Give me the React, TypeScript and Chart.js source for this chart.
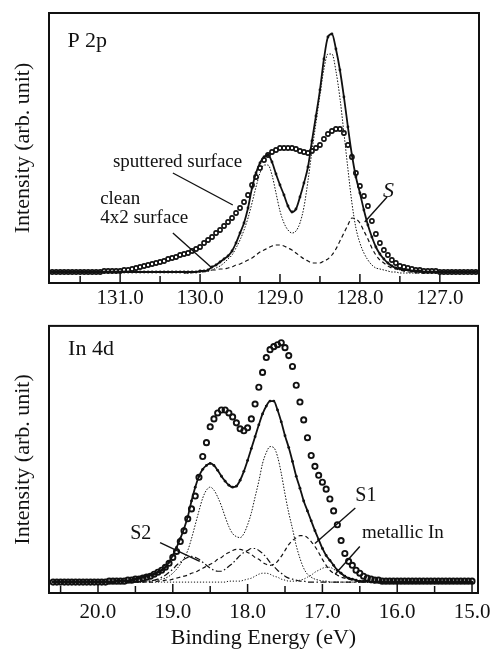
import React, { useEffect, useRef } from 'react';
import { Chart, registerables } from 'chart.js';

Chart.register(...registerables);

const SERIF = "'Liberation Serif', 'Times New Roman', Times, serif";
const INK = '#111111';

// ---------------- P 2p panel ----------------
const p2pEnergy = [
  131.85, 131.80, 131.75, 131.70, 131.65, 131.60, 131.55, 131.50, 131.45, 131.40,
  131.35, 131.30, 131.25, 131.20, 131.15, 131.10, 131.05, 131.00, 130.95, 130.90,
  130.85, 130.80, 130.75, 130.70, 130.65, 130.60, 130.55, 130.50, 130.45, 130.40,
  130.35, 130.30, 130.25, 130.20, 130.15, 130.10, 130.05, 130.00, 129.95, 129.90,
  129.85, 129.80, 129.75, 129.70, 129.65, 129.60, 129.55, 129.50, 129.45, 129.40,
  129.35, 129.30, 129.25, 129.20, 129.15, 129.10, 129.05, 129.00, 128.95, 128.90,
  128.85, 128.80, 128.75, 128.70, 128.65, 128.60, 128.55, 128.50, 128.45, 128.40,
  128.35, 128.30, 128.25, 128.20, 128.15, 128.10, 128.05, 128.00, 127.95, 127.90,
  127.85, 127.80, 127.75, 127.70, 127.65, 127.60, 127.55, 127.50, 127.45, 127.40,
  127.35, 127.30, 127.25, 127.20, 127.15, 127.10, 127.05, 127.00, 126.95, 126.90,
  126.85, 126.80, 126.75, 126.70, 126.65, 126.60, 126.55,
];
const p2pSputtered = [
  1, 1, 1, 1, 1, 1, 1, 1, 1, 1,
  1, 1, 1, 2, 2, 2, 2, 2, 3, 3,
  4, 5, 6, 7, 8, 9, 10, 11, 12, 14,
  15, 16, 18, 19, 20, 22, 24, 26, 30, 33,
  36, 40, 43, 47, 51, 55, 60, 65, 71, 78,
  88, 96, 105, 113, 118, 121, 123, 125, 125, 125,
  125, 124, 122, 121, 120, 122, 125, 128, 134, 139,
  142, 144, 144, 140, 128, 116, 100, 87, 77, 67,
  52, 39, 30, 23, 18, 13, 10, 7, 6, 5,
  4, 3, 3, 2, 2, 2, 2, 1, 1, 1,
  1, 1, 1, 1, 1, 1, 1,
];
const p2pClean = [
  1, 1, 1, 1, 1, 1, 1, 1, 1, 1,
  1, 1, 1, 1, 1, 1, 1, 1, 1, 1,
  1, 1, 1, 1, 1, 1, 1, 1, 1, 1,
  1, 1, 1, 1, 1, 1, 1, 2, 2, 3,
  6, 8, 11, 14, 17, 22, 30, 40, 50, 65,
  85, 100, 110, 116, 118, 111, 99, 88, 78, 67,
  61, 64, 76, 90, 106, 132, 157, 183, 214, 236,
  239, 224, 203, 176, 146, 118, 96, 80, 63, 48,
  36, 26, 19, 14, 10, 7, 5, 4, 3, 3,
  2, 2, 2, 1, 1, 1, 1, 1, 1, 1,
  1, 1, 1, 1, 1, 1, 1,
];
const p2pCompEnergy = [
  130.20, 130.15, 130.10, 130.05, 130.00, 129.95, 129.90, 129.85, 129.80, 129.75,
  129.70, 129.65, 129.60, 129.55, 129.50, 129.45, 129.40, 129.35, 129.30, 129.25,
  129.20, 129.15, 129.10, 129.05, 129.00, 128.95, 128.90, 128.85, 128.80, 128.75,
  128.70, 128.65, 128.60, 128.55, 128.50, 128.45, 128.40, 128.35, 128.30, 128.25,
  128.20, 128.15, 128.10, 128.05, 128.00, 127.95, 127.90, 127.85, 127.80, 127.75,
  127.70, 127.65, 127.60, 127.55, 127.50, 127.45, 127.40, 127.35, 127.30, 127.25,
  127.20,
];
const p2pBulk = [
  0, 0, 0, 1, 1, 1, 2, 3, 5, 7,
  10, 14, 18, 25, 33, 43, 55, 70, 86, 100,
  108, 108, 98, 80, 62, 50, 43, 40, 42, 50,
  66, 92, 122, 150, 178, 204, 219, 219, 202, 175,
  140, 104, 70, 45, 30, 20, 13, 8, 5, 4,
  3, 2, 1, 1, 0, 0, 0, 0, 0, 0,
  0,
];
const p2pSurfaceS = [
  0, 0, 1, 1, 1, 2, 2, 3, 3, 4,
  4, 5, 6, 8, 9, 11, 13, 15, 18, 21,
  23, 25, 27, 28, 28, 27, 25, 23, 20, 17,
  14, 12, 10, 10, 10, 12, 14, 18, 24, 32,
  40, 48, 55, 54, 50, 42, 34, 25, 18, 13,
  10, 7, 5, 4, 3, 2, 1, 1, 0, 0,
  0,
];
const p2pTicks = [131.5, 131.0, 130.5, 130.0, 129.5, 129.0, 128.5, 128.0, 127.5, 127.0];

// ---------------- In 4d panel ----------------
const in4dEnergy = [
  20.60, 20.55, 20.50, 20.45, 20.40, 20.35, 20.30, 20.25, 20.20, 20.15,
  20.10, 20.05, 20.00, 19.95, 19.90, 19.85, 19.80, 19.75, 19.70, 19.65,
  19.60, 19.55, 19.50, 19.45, 19.40, 19.35, 19.30, 19.25, 19.20, 19.15,
  19.10, 19.05, 19.00, 18.95, 18.90, 18.85, 18.80, 18.75, 18.70, 18.65,
  18.60, 18.55, 18.50, 18.45, 18.40, 18.35, 18.30, 18.25, 18.20, 18.15,
  18.10, 18.05, 18.00, 17.95, 17.90, 17.85, 17.80, 17.75, 17.70, 17.65,
  17.60, 17.55, 17.50, 17.45, 17.40, 17.35, 17.30, 17.25, 17.20, 17.15,
  17.10, 17.05, 17.00, 16.95, 16.90, 16.85, 16.80, 16.75, 16.70, 16.65,
  16.60, 16.55, 16.50, 16.45, 16.40, 16.35, 16.30, 16.25, 16.20, 16.15,
  16.10, 16.05, 16.00, 15.95, 15.90, 15.85, 15.80, 15.75, 15.70, 15.65,
  15.60, 15.55, 15.50, 15.45, 15.40, 15.35, 15.30, 15.25, 15.20, 15.15,
  15.10, 15.05, 15.00,
];
const in4dData = [
  0, 0, 0, 0, 0, 0, 0, 0, 0, 0,
  0, 0, 0, 0, 0, 1, 1, 1, 1, 1,
  2, 2, 3, 3, 4, 5, 6, 8, 10, 12,
  15, 19, 25, 31, 41, 52, 64, 74, 87, 106,
  127, 141, 157, 165, 171, 174, 174, 171, 167, 161,
  155, 153, 156, 165, 180, 197, 212, 227, 235, 238,
  240, 242, 237, 229, 218, 199, 182, 164, 146, 128,
  117, 108, 101, 94, 84, 72, 58, 42, 29, 21,
  17, 12, 9, 6, 4, 3, 2, 2, 1, 1,
  1, 1, 1, 1, 1, 1, 1, 1, 1, 1,
  1, 1, 1, 1, 1, 1, 1, 1, 1, 1,
  1, 1, 1,
];
const in4dFit = [
  0, 0, 0, 0, 0, 0, 0, 0, 0, 0,
  0, 0, 0, 0, 0, 0, 0, 1, 1, 1,
  1, 2, 3, 4, 5, 6, 7, 8, 10, 12,
  15, 20, 27, 35, 44, 54, 66, 82, 96, 107,
  114, 118, 120, 118, 113, 107, 102, 98, 96, 97,
  103, 112, 123, 135, 147, 159, 170, 178, 183, 183,
  174, 162, 148, 136, 122, 107, 95, 82, 72, 62,
  52, 43, 34, 27, 22, 17, 12, 9, 6, 4,
  3, 2, 1, 1, 1, 0, 0, 0, 0, 0,
  0, 0, 0, 0, 0, 0, 0, 0, 0, 0,
  0, 0, 0, 0, 0, 0, 0, 0, 0, 0,
  0, 0, 0,
];
const in4dCompEnergy = [
  19.60, 19.55, 19.50, 19.45, 19.40, 19.35, 19.30, 19.25, 19.20, 19.15,
  19.10, 19.05, 19.00, 18.95, 18.90, 18.85, 18.80, 18.75, 18.70, 18.65,
  18.60, 18.55, 18.50, 18.45, 18.40, 18.35, 18.30, 18.25, 18.20, 18.15,
  18.10, 18.05, 18.00, 17.95, 17.90, 17.85, 17.80, 17.75, 17.70, 17.65,
  17.60, 17.55, 17.50, 17.45, 17.40, 17.35, 17.30, 17.25, 17.20, 17.15,
  17.10, 17.05, 17.00, 16.95, 16.90, 16.85, 16.80, 16.75, 16.70, 16.65,
  16.60, 16.55, 16.50, 16.45, 16.40, 16.35, 16.30, 16.25, 16.20,
];
const in4dBulk = [
  0, 0, 0, 0, 1, 1, 1, 2, 2, 3,
  4, 6, 9, 13, 18, 24, 32, 44, 58, 72,
  85, 93, 96, 93, 86, 77, 66, 56, 49, 46,
  45, 49, 58, 70, 86, 102, 120, 131, 137, 136,
  127, 110, 89, 70, 54, 37, 24, 14, 8, 5,
  3, 2, 1, 1, 0, 0, 0, 0, 0, 0,
  0, 0, 0, 0, 0, 0, 0, 0, 0,
];
const in4dS1 = [
  0, 0, 0, 0, 0, 0, 0, 0, 1, 1,
  2, 2, 3, 4, 5, 6, 7, 9, 10, 12,
  14, 16, 18, 20, 23, 25, 28, 30, 32, 33,
  33, 32, 30, 28, 25, 23, 20, 18, 17, 18,
  21, 26, 32, 38, 42, 45, 47, 47, 45, 41,
  36, 30, 23, 17, 12, 9, 7, 5, 4, 3,
  2, 1, 1, 0, 0, 0, 0, 0, 0,
];
const in4dS2 = [
  0, 0, 0, 1, 1, 1, 1, 2, 3, 5,
  7, 10, 13, 17, 20, 23, 25, 26, 25, 23,
  20, 17, 14, 12, 11, 11, 13, 16, 19, 23,
  27, 30, 32, 34, 34, 32, 29, 25, 20, 16,
  12, 9, 6, 4, 3, 2, 1, 1, 0, 0,
  0, 0, 0, 0, 0, 0, 0, 0, 0, 0,
  0, 0, 0, 0, 0, 0, 0, 0, 0,
];
const in4dMetallic = [
  0, 0, 0, 0, 0, 0, 0, 0, 0, 0,
  0, 0, 0, 0, 0, 0, 0, 0, 0, 0,
  0, 0, 0, 0, 0, 0, 0, 1, 1, 1,
  1, 2, 3, 4, 6, 8, 9, 9, 8, 6,
  5, 3, 2, 1, 1, 1, 2, 3, 5, 7,
  10, 12, 14, 15, 15, 13, 11, 8, 6, 4,
  3, 2, 1, 1, 0, 0, 0, 0, 0,
];
const in4dTicks = [20.5, 20.0, 19.5, 19.0, 18.5, 18.0, 17.5, 17.0, 16.5, 16.0, 15.5, 15.0];

// ---------------- annotations (data coordinates) ----------------
type Note = { text: string; x: number; y: number; size: number; italic?: boolean };
type Pointer = { x1: number; y1: number; x2: number; y2: number };

const p2pNotes: Note[] = [
  { text: 'P 2p', x: 131.66, y: 232, size: 22 },
  { text: 'sputtered surface', x: 131.09, y: 111, size: 19 },
  { text: 'clean', x: 131.25, y: 74, size: 19 },
  { text: '4x2 surface', x: 131.25, y: 55, size: 19 },
  { text: 'S', x: 127.71, y: 82, size: 22, italic: true },
];
const p2pPointers: Pointer[] = [
  { x1: 130.34, y1: 100, x2: 129.59, y2: 68 },
  { x1: 130.34, y1: 40, x2: 129.85, y2: 5 },
  { x1: 127.66, y1: 76, x2: 127.94, y2: 51 },
];
const in4dNotes: Note[] = [
  { text: 'In 4d', x: 20.4, y: 235, size: 22 },
  { text: 'S2', x: 19.57, y: 49, size: 20 },
  { text: 'S1', x: 16.56, y: 87, size: 20 },
  { text: 'metallic In', x: 16.47, y: 50, size: 19 },
];
const in4dPointers: Pointer[] = [
  { x1: 19.17, y1: 40, x2: 18.64, y2: 21 },
  { x1: 16.56, y1: 75, x2: 17.1, y2: 39 },
  { x1: 16.5, y1: 36, x2: 16.83, y2: 8 },
];

const pts = (xs: number[], ys: number[]) => xs.map((x, i) => ({ x, y: ys[i] }));

const framePlugin = {
  id: 'frame',
  afterDraw(chart: any, _args: any, opts: any) {
    const { ctx, chartArea: a, scales } = chart;
    const xs = scales.x;
    const ys = scales.y;
    ctx.save();
    ctx.strokeStyle = INK;
    ctx.lineWidth = 2;
    ctx.strokeRect(a.left, a.top, a.right - a.left, a.bottom - a.top);
    ctx.lineWidth = 1.5;
    xs.ticks.forEach((t: any) => {
      const px = xs.getPixelForValue(t.value);
      const major = Math.abs(t.value - Math.round(t.value)) < 1e-6;
      const len = major ? 9 : 7;
      ctx.beginPath();
      ctx.moveTo(px, a.bottom);
      ctx.lineTo(px, a.bottom - len);
      ctx.stroke();
    });
    ctx.lineWidth = 1.4;
    (opts.pointers || []).forEach((p: Pointer) => {
      ctx.beginPath();
      ctx.moveTo(xs.getPixelForValue(p.x1), ys.getPixelForValue(p.y1));
      ctx.lineTo(xs.getPixelForValue(p.x2), ys.getPixelForValue(p.y2));
      ctx.stroke();
    });
    ctx.fillStyle = INK;
    ctx.textAlign = 'left';
    ctx.textBaseline = 'middle';
    (opts.notes || []).forEach((n: Note) => {
      ctx.font = `${n.italic ? 'italic ' : ''}${n.size}px ${SERIF}`;
      ctx.fillText(n.text, xs.getPixelForValue(n.x), ys.getPixelForValue(n.y));
    });
    ctx.restore();
  },
};

const circles = (data: any[], r: number, bw: number) => ({
  data,
  showLine: false,
  pointStyle: 'circle',
  pointRadius: r,
  pointBorderWidth: bw,
  pointBorderColor: INK,
  pointBackgroundColor: 'rgba(0,0,0,0)',
  borderColor: INK,
});
const dottedSolid = (data: any[]) => ({
  data,
  showLine: true,
  borderColor: INK,
  borderWidth: 1.8,
  pointRadius: 1.4,
  pointBorderWidth: 0,
  pointBackgroundColor: INK,
  cubicInterpolationMode: 'monotone',
});
const styledLine = (data: any[], dash: number[], width: number) => ({
  data,
  showLine: true,
  borderColor: INK,
  borderWidth: width,
  borderDash: dash,
  pointRadius: 0,
  cubicInterpolationMode: 'monotone',
});

type PanelSpec = {
  datasets: any[];
  xmin: number;
  xmax: number;
  ymin: number;
  ymax: number;
  ticks: number[];
  padTop: number;
  padRight: number;
  xHeight: number;
  tickPad: number;
  xTitle?: string;
  notes: Note[];
  pointers: Pointer[];
};

function makeConfig(p: PanelSpec): any {
  return {
    type: 'line',
    data: { datasets: p.datasets },
    plugins: [framePlugin],
    options: {
      responsive: false,
      maintainAspectRatio: false,
      animation: false,
      events: [],
      layout: { padding: { left: 0, right: p.padRight, top: p.padTop, bottom: 0 } },
      scales: {
        x: {
          type: 'linear',
          reverse: true,
          min: p.xmin,
          max: p.xmax,
          afterBuildTicks: (s: any) => {
            s.ticks = p.ticks.map((v) => ({ value: v }));
          },
          afterFit: (s: any) => {
            s.height = p.xHeight;
            s.paddingLeft = 0;
            s.paddingRight = 0;
          },
          grid: { display: false, drawTicks: false },
          border: { display: false },
          ticks: {
            autoSkip: false,
            maxRotation: 0,
            padding: p.tickPad,
            color: INK,
            font: { family: SERIF, size: 21 },
            callback: (v: number) =>
              Math.abs(v - Math.round(v)) < 1e-6 ? Number(v).toFixed(1) : '',
          },
          title: {
            display: !!p.xTitle,
            text: p.xTitle || '',
            color: INK,
            font: { family: SERIF, size: 22 },
            padding: { top: 0, bottom: -1 },
          },
        },
        y: {
          min: p.ymin,
          max: p.ymax,
          afterFit: (s: any) => {
            s.width = 49;
            s.paddingTop = 0;
            s.paddingBottom = 0;
          },
          grid: { display: false, drawTicks: false },
          border: { display: false },
          ticks: { display: false },
          title: {
            display: true,
            text: 'Intensity (arb. unit)',
            color: INK,
            font: { family: SERIF, size: 22 },
            padding: { top: 10, bottom: 0 },
          },
        },
      },
      plugins: {
        legend: { display: false },
        tooltip: { enabled: false },
        frame: { notes: p.notes, pointers: p.pointers },
      },
    },
  };
}

function Panel({ spec, width, height, top }: { spec: PanelSpec; width: number; height: number; top: number }) {
  const ref = useRef<HTMLCanvasElement | null>(null);
  useEffect(() => {
    if (!ref.current) return;
    const chart = new Chart(ref.current, makeConfig(spec));
    return () => chart.destroy();
  }, [spec]);
  return (
    <canvas
      ref={ref}
      width={width}
      height={height}
      style={{ position: 'absolute', left: 0, top, width, height, display: 'block' }}
    />
  );
}

const p2pSpec: PanelSpec = {
  datasets: [
    styledLine(pts(p2pCompEnergy, p2pBulk), [1.5, 1.5], 1),
    styledLine(pts(p2pCompEnergy, p2pSurfaceS), [4, 3], 1.2),
    dottedSolid(pts(p2pEnergy, p2pClean)),
    circles(pts(p2pEnergy, p2pSputtered), 2.1, 1.6),
  ],
  xmin: 126.51,
  xmax: 131.89,
  ymin: -10,
  ymax: 260,
  ticks: p2pTicks,
  padTop: 13,
  padRight: 12,
  xHeight: 37,
  tickPad: 3,
  notes: p2pNotes,
  pointers: p2pPointers,
};

const in4dSpec: PanelSpec = {
  datasets: [
    styledLine(pts(in4dCompEnergy, in4dBulk), [1.5, 1.5], 1),
    styledLine(pts(in4dCompEnergy, in4dS1), [4, 3], 1.2),
    styledLine(pts(in4dCompEnergy, in4dS2), [6, 2.5, 1.5, 2.5], 1.2),
    styledLine(pts(in4dCompEnergy, in4dMetallic), [1.2, 1.8], 1),
    dottedSolid(pts(in4dEnergy, in4dFit)),
    circles(pts(in4dEnergy, in4dData), 2.6, 1.9),
  ],
  xmin: 14.92,
  xmax: 20.655,
  ymin: -11,
  ymax: 259,
  ticks: in4dTicks,
  padTop: 3,
  padRight: 13,
  xHeight: 57,
  tickPad: 7,
  xTitle: 'Binding Energy (eV)',
  notes: in4dNotes,
  pointers: in4dPointers,
};

export default function App() {
  return (
    <div style={{ position: 'absolute', left: 0, top: 0, width: 491, height: 650, background: '#ffffff' }}>
      <Panel spec={p2pSpec} width={491} height={320} top={0} />
      <Panel spec={in4dSpec} width={491} height={330} top={320} />
    </div>
  );
}
